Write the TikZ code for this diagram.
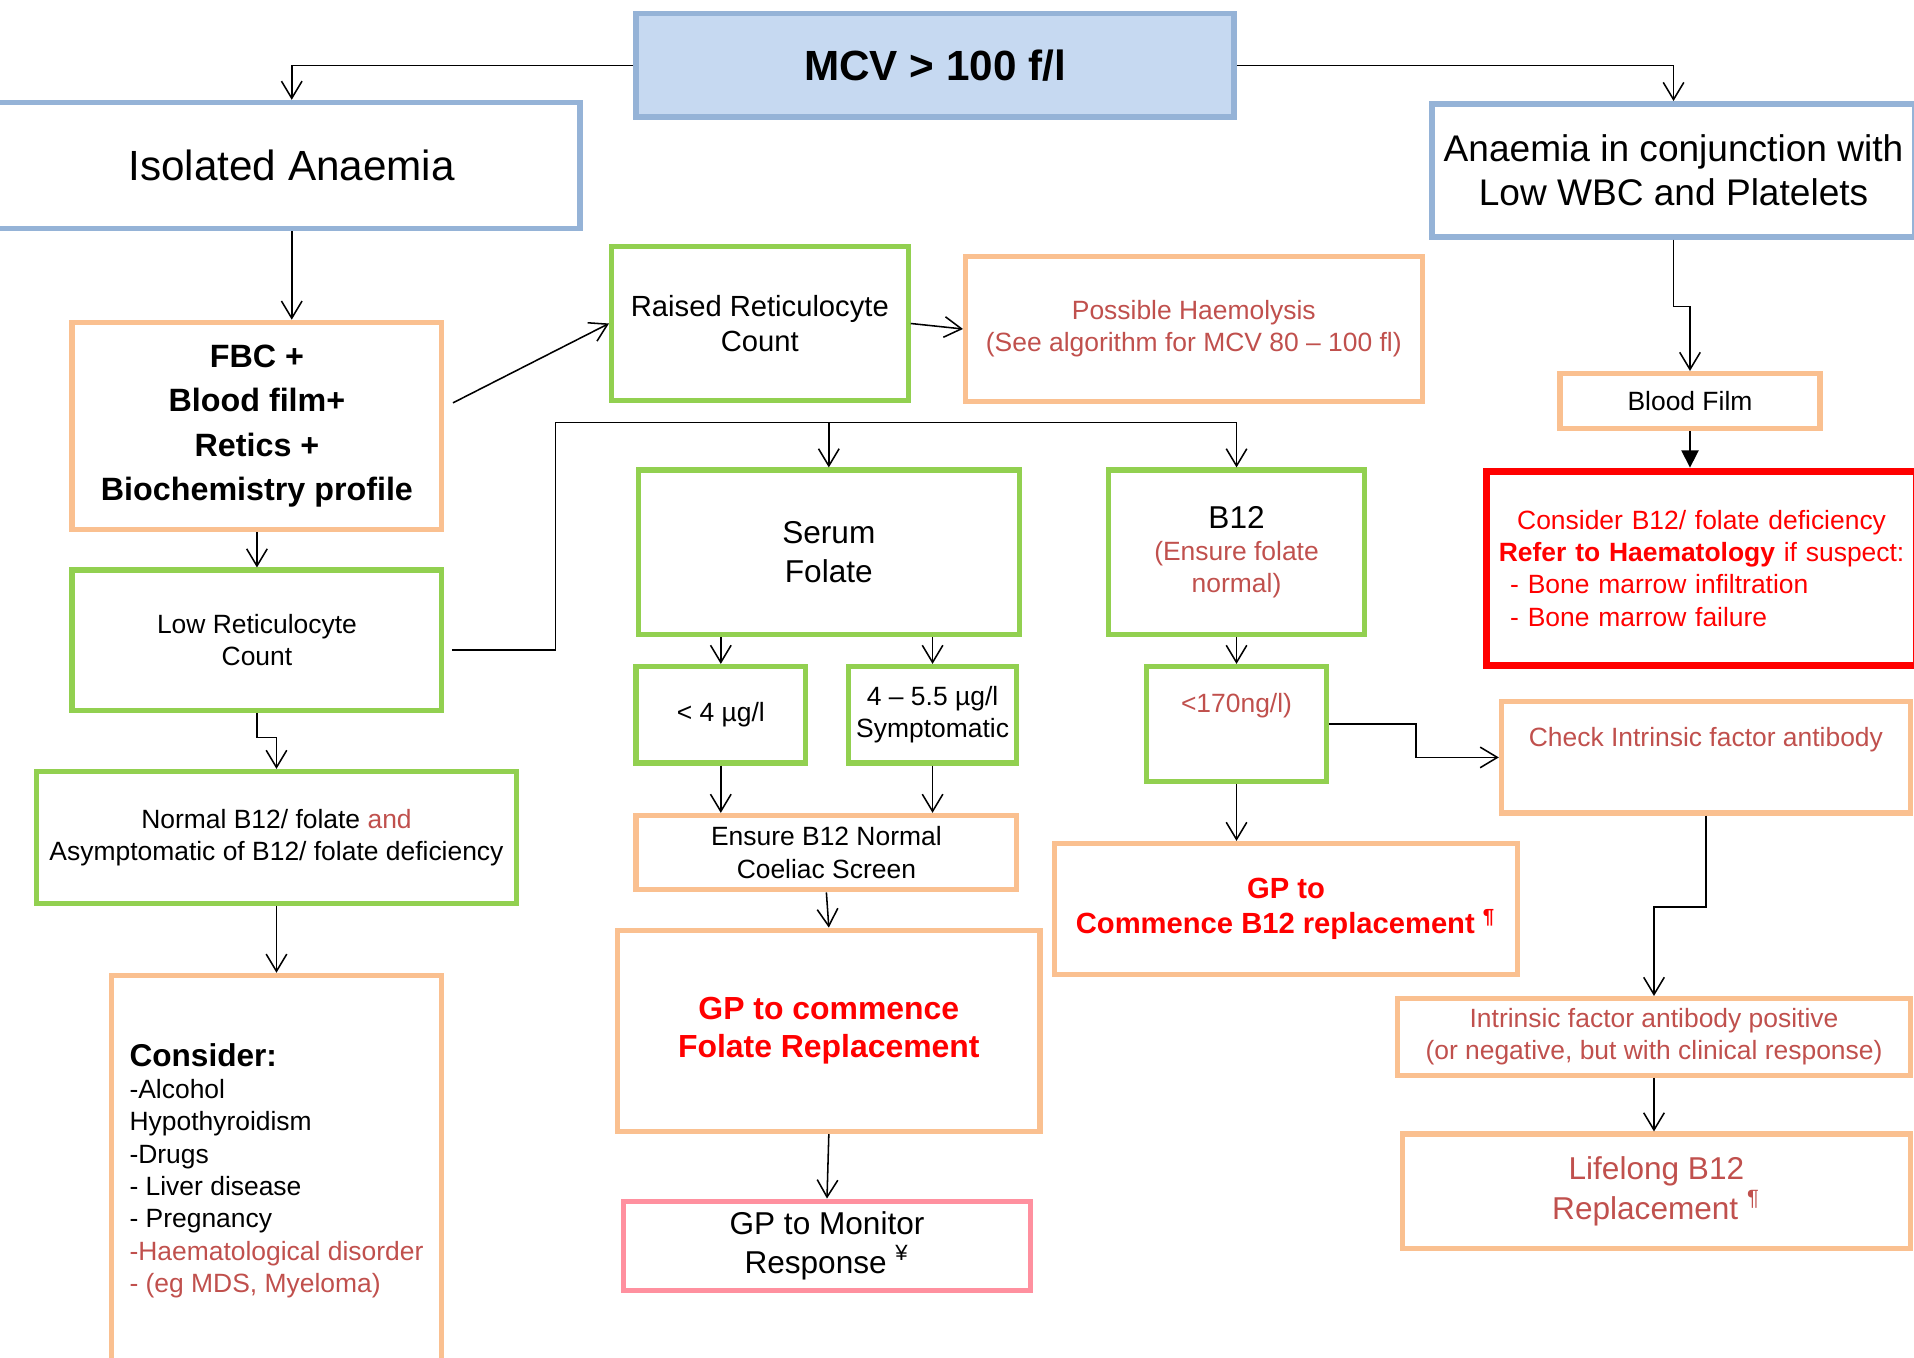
\documentclass[tikz,border=0pt]{standalone}
\usepackage{fontspec}
\setmainfont{Liberation Sans}
\usetikzlibrary{arrows.meta}
\definecolor{bluebd}{HTML}{95B3D7}
\definecolor{bluefill}{HTML}{C6D9F1}
\definecolor{orangebd}{HTML}{FAC090}
\definecolor{greenbd}{HTML}{92D050}
\definecolor{pinkbd}{HTML}{FF909F}
\definecolor{redtxt}{HTML}{C0504D}
\definecolor{alarm}{HTML}{FF0000}

\begin{document}
\begin{tikzpicture}[x=0.0125cm,y=-0.0125cm,
   every node/.style={align=center,inner sep=0pt},
   sz/.style 2 args={minimum width=#1*0.0125cm,minimum height=#2*0.0125cm},
   bluebox/.style={draw=bluebd,line width=1.6pt},
   orangebox/.style={draw=orangebd,line width=1.5pt},
   greenbox/.style={draw=greenbd,line width=1.5pt},
   txtbig/.style={font=\fontsize{12.3}{14.5}\selectfont},
   txtmid/.style={font=\fontsize{9.2}{11.4}\selectfont},
   txtsmall/.style={font=\fontsize{7.7}{9.4}\selectfont},
   arr/.style={-{Straight Barb[length=5pt,width=6pt]},line width=0.45pt}]
\useasboundingbox (0,0) rectangle (1568,1112);
\clip (0,0) rectangle (1568,1112);
\node[bluebox,fill=bluefill,sz={490}{85},font=\bfseries\fontsize{12.3}{14.5}\selectfont] (mcv) at (766,53.5) {MCV > 100 f/l};
\node[bluebox,sz={500}{103},txtbig] (iso) at (225,135.5) {\hspace*{0.35cm}Isolated Anaemia};
\node[bluebox,sz={396}{109},font=\fontsize{10.8}{12.8}\selectfont] (conj) at (1371,139.5) {Anaemia in conjunction with\\Low WBC and Platelets};
\node[orangebox,sz={303}{170},font=\bfseries\fontsize{9.4}{13}\selectfont] (fbc) at (210.5,349) {FBC +\\Blood film+\\Retics +\\Biochemistry profile};
\node[greenbox,sz={243}{126},font=\fontsize{8.5}{10.3}\selectfont] (raised) at (622.5,265) {Raised Reticulocyte\\Count};
\node[orangebox,sz={374}{119},txtsmall,text=redtxt] (haem) at (978,269.5) {Possible Haemolysis\\(See algorithm for MCV 80 – 100 fl)};
\node[orangebox,sz={213}{45},txtsmall] (film) at (1384.5,328.5) {Blood Film};
\node[draw=alarm,line width=2.1pt,sz={352}{159},txtsmall,text=alarm,text width=4.4cm,align=left] (redbox) at (1394,465.5) {{\centering Consider B12/ folate deficiency\\\textbf{Refer to Haematology} if suspect:\par}\hspace*{0.24cm}- Bone marrow infiltration\\\hspace*{0.24cm}- Bone marrow failure};
\node[greenbox,sz={303}{115},txtsmall] (lowret) at (210.5,524.5) {Low Reticulocyte\\Count};
\node[greenbox,sz={312}{135},txtmid] (serum) at (679,452.5) {Serum\\Folate};
\node[greenbox,sz={210}{135},txtsmall] (b12) at (1013,452.5) {{\fontsize{9.2}{11}\selectfont B12}\\\textcolor{redtxt}{(Ensure folate}\\\textcolor{redtxt}{normal)}};
\node[greenbox,sz={139}{79},txtsmall] (lt4) at (590.5,585.5) {< 4 µg/l};
\node[greenbox,sz={138}{79},txtsmall] (sym) at (764,585.5) {4 – 5.5 µg/l\\Symptomatic};
\node[greenbox,sz={148}{94},txtsmall,text=redtxt] (ng) at (1013,593) {<170ng/l)\\\strut};
\node[orangebox,sz={335}{91},txtsmall,text=redtxt] (check) at (1397.5,620.5) {Check Intrinsic factor antibody\\\strut};
\node[greenbox,sz={393}{108},txtsmall] (normal) at (226.5,686) {Normal B12/ folate \textcolor{redtxt}{and}\\Asymptomatic of B12/ folate deficiency};
\node[orangebox,sz={312}{61},txtsmall] (ensure) at (677,698.5) {Ensure B12 Normal\\Coeliac Screen};
\node[orangebox,sz={379}{107},font=\bfseries\fontsize{8.5}{10.3}\selectfont,text=alarm] (gpb12) at (1053.5,744.5) {GP to\\Commence B12 replacement \textsuperscript{¶}};
\node[orangebox,sz={346}{165},font=\bfseries\fontsize{9.3}{11}\selectfont,text=alarm] (gpfol) at (679,844.5) {GP to commence\\Folate Replacement};
\node[orangebox,sz={271}{320},txtsmall,align=left] (consider) at (226.5,959) {{\bfseries\fontsize{9.2}{11}\selectfont Consider:}\\-Alcohol\\Hypothyroidism\\-Drugs\\- Liver disease\\- Pregnancy\\\textcolor{redtxt}{-Haematological disorder}\\\textcolor{redtxt}{- (eg MDS, Myeloma)}};
\node[draw=pinkbd,line width=1.5pt,sz={333}{73},txtmid] (gpmon) at (677.5,1020.5) {GP to Monitor\\Response \textsuperscript{¥}};
\node[orangebox,sz={420}{63},txtsmall,text=redtxt] (ifpos) at (1355,849.5) {Intrinsic factor antibody positive\\(or negative, but with clinical response)};
\node[orangebox,sz={416}{94},txtmid,text=redtxt] (life) at (1357,976) {Lifelong B12\\Replacement \textsuperscript{¶}};
\coordinate (bend) at (455,346);

\draw[arr] (mcv.west) -| ([xshift=0.175cm]iso.north);
\draw[arr] (mcv.east) -| (conj.north);
\draw[arr] ([xshift=0.175cm]iso.south) -- ([xshift=0.175cm]iso.south |- fbc.north);
\draw[arr] ([shift={(7,-19)}]fbc.east) -- (raised.west);
\draw[arr] (raised.east) -- (haem.west);
\draw[arr] (fbc.south) -- (lowret.north);
\draw[arr] ([shift={(6,8)}]lowret.east) -| (bend) -| (b12.north);
\draw[arr] (serum.north |- bend) -- (serum.north);
\draw[arr] (lowret.south) -- ++(0,20) -| (normal.north);
\draw[arr] (normal.south) -- (consider.north);
\draw[arr] (lt4.north |- serum.south) -- (lt4.north);
\draw[arr] (sym.north |- serum.south) -- (sym.north);
\draw[arr] (lt4.south) -- (lt4.south |- ensure.north);
\draw[arr] (sym.south) -- (sym.south |- ensure.north);
\draw[arr] (ensure.south) -- (gpfol.north);
\draw[arr] (gpfol.south) -- (gpmon.north);
\draw[arr] (b12.south) -- (ng.north);
\draw[arr] (ng.south) -- (ng.south |- gpb12.north);
\draw[arr] (ng.east) -- ++(71,0) |- (check.west);
\draw[arr] (check.south) -- ++(0,75) -| (ifpos.north);
\draw[arr] (ifpos.south) -- (ifpos.south |- life.north);
\draw[arr] (conj.south) -- ++(0,55) -| (film.north);
\draw[-{Triangle[length=5pt,width=5pt]},line width=0.45pt] (film.south) -- (film.south |- redbox.north);
\end{tikzpicture}
\end{document}
